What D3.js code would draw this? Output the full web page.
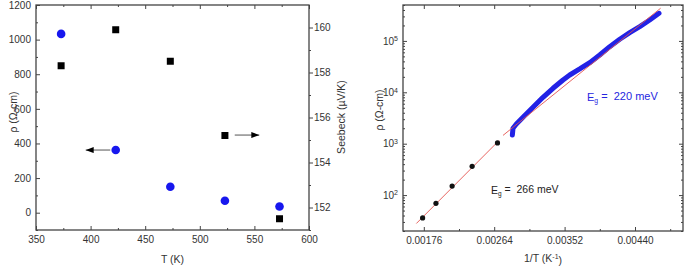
<!DOCTYPE html>
<html>
<head>
<meta charset="utf-8">
<script src="https://cdn.jsdelivr.net/npm/d3@7"></script>
<style>
    body { margin: 0; background: #fff; }
    svg text { font-family: "Liberation Sans", Arial, sans-serif; fill: #333; }
</style>
</head>
<body>
<div id="chart"></div>
<script>
// samples measured at fixed temperatures
const tempK = [373, 423, 473, 523, 573];
const rhoVals = [1033, 362, 150, 69, 36];
const seebeckVals = [158.3, 159.9, 158.5, 155.2, 151.5];

// continuous low temperature run (1/T, rho)
const runInvT = [0.002867, 0.002875, 0.002917, 0.00300, 0.003125, 0.00325, 0.003375, 0.0035, 0.003584,
    0.003709, 0.003834, 0.003959, 0.004084, 0.004209, 0.004334, 0.004459, 0.004584, 0.0047];
const runRho = [1480, 2000, 2420, 3270, 5120, 8000, 11970, 17380, 21730,
    28440, 37740, 53210, 77270, 107600, 144500, 189200, 255300, 345100];

// Arrhenius fit lines (end points)
const fitLowInvT = [0.001667, 0.00270];
const fitLowRho = [28, 1150];
const fitHighInvT = [0.00275, 0.00472];
const fitHighRho = [1450, 432000];

// ticks
const tTicks = [350, 400, 450, 500, 550, 600];
const tMinor = [375, 425, 475, 525, 575];
const rhoTicks = [0, 200, 400, 600, 800, 1000, 1200];
const rhoMinor = [-100, 100, 300, 500, 700, 900, 1100];
const sbTicks = [152, 154, 156, 158, 160];
const sbMinor = [151, 153, 155, 157, 159];
const invTicks = [0.00176, 0.00264, 0.00352, 0.00440];
const invMinor = [0.0022, 0.00308, 0.00396, 0.00484];
const logTicks = [1e2, 1e3, 1e4, 1e5];

const W = 685, H = 267;
const ink = "#444";

const svg = d3.select("#chart").append("svg")
    .attr("width", W)
    .attr("height", H);

svg.append("defs").append("marker")
    .attr("id", "arr")
    .attr("viewBox", "0 0 8 6")
    .attr("refX", 8).attr("refY", 3)
    .attr("markerWidth", 8).attr("markerHeight", 6)
    .attr("markerUnits", "userSpaceOnUse")
    .attr("orient", "auto")
    .append("path")
    .attr("d", "M0,0L8,3L0,6Z")
    .attr("fill", "#000");

function styleAxis(g) {
    g.select(".domain").remove();
    g.selectAll("line").attr("stroke", ink).attr("stroke-width", 1);
    g.selectAll("text").attr("fill", "#333").attr("font-size", 10);
}

function frame(b) {
    svg.append("rect")
        .attr("x", b.x0).attr("y", b.y0)
        .attr("width", b.x1 - b.x0).attr("height", b.y1 - b.y0)
        .attr("fill", "none")
        .attr("stroke", ink)
        .attr("stroke-width", 1.3);
}

// ---------------- left panel ----------------
const bL = { x0: 36, x1: 309, y0: 5, y1: 230 };

const xT = d3.scaleLinear().domain([350, 600]).range([bL.x0, bL.x1]);
const yRho = d3.scaleLinear().domain([-100, 1200]).range([bL.y1, bL.y0]);
const ySb = d3.scaleLinear().domain([151, 161]).range([bL.y1, bL.y0]);

svg.append("g").attr("transform", "translate(0," + bL.y1 + ")")
    .call(d3.axisBottom(xT).tickValues(tTicks).tickSize(-4).tickPadding(6).tickFormat(d3.format("d")))
    .call(styleAxis);
svg.append("g").attr("transform", "translate(0," + bL.y1 + ")")
    .call(d3.axisBottom(xT).tickValues(tMinor).tickSize(-2).tickFormat(""))
    .call(styleAxis);
svg.append("g").attr("transform", "translate(0," + bL.y0 + ")")
    .call(d3.axisTop(xT).tickValues(tTicks).tickSize(-4).tickFormat(""))
    .call(styleAxis);
svg.append("g").attr("transform", "translate(0," + bL.y0 + ")")
    .call(d3.axisTop(xT).tickValues(tMinor).tickSize(-2).tickFormat(""))
    .call(styleAxis);

svg.append("g").attr("transform", "translate(" + bL.x0 + ",0)")
    .call(d3.axisLeft(yRho).tickValues(rhoTicks).tickSize(-4).tickPadding(5).tickFormat(d3.format("d")))
    .call(styleAxis);
svg.append("g").attr("transform", "translate(" + bL.x0 + ",0)")
    .call(d3.axisLeft(yRho).tickValues(rhoMinor).tickSize(-2).tickFormat(""))
    .call(styleAxis);

svg.append("g").attr("transform", "translate(" + bL.x1 + ",0)")
    .call(d3.axisRight(ySb).tickValues(sbTicks).tickSize(4).tickPadding(1).tickFormat(d3.format("d")))
    .call(styleAxis);
svg.append("g").attr("transform", "translate(" + bL.x1 + ",0)")
    .call(d3.axisRight(ySb).tickValues(sbMinor).tickSize(2).tickFormat(""))
    .call(styleAxis);

frame(bL);

const left = tempK.map((t, i) => ({ t: t, rho: rhoVals[i], s: seebeckVals[i] }));

svg.append("g").selectAll("rect")
    .data(left)
    .join("rect")
    .attr("x", d => xT(d.t) - 3.5)
    .attr("y", d => ySb(d.s) - 3.5)
    .attr("width", 7).attr("height", 7)
    .attr("fill", "#000");

svg.append("g").selectAll("circle")
    .data(left)
    .join("circle")
    .attr("cx", d => xT(d.t))
    .attr("cy", d => yRho(d.rho))
    .attr("r", 4.3)
    .attr("fill", "#1717ee");

// arrows pointing to the matching axis
svg.append("line")
    .attr("x1", xT(418)).attr("x2", xT(395.5))
    .attr("y1", yRho(362)).attr("y2", yRho(362))
    .attr("stroke", "#555").attr("stroke-width", 1)
    .attr("marker-end", "url(#arr)");
svg.append("line")
    .attr("x1", xT(532)).attr("x2", xT(554.5))
    .attr("y1", ySb(155.22)).attr("y2", ySb(155.22))
    .attr("stroke", "#555").attr("stroke-width", 1)
    .attr("marker-end", "url(#arr)");

svg.append("text")
    .attr("x", (bL.x0 + bL.x1) / 2).attr("y", 263)
    .attr("text-anchor", "middle").attr("font-size", 10.5)
    .text("T (K)");
svg.append("text")
    .attr("transform", "translate(13," + 112 + ") rotate(-90)")
    .attr("text-anchor", "middle").attr("dy", "0.35em").attr("font-size", 10.5)
    .text("\u03c1 (\u03a9-cm)");
svg.append("text")
    .attr("transform", "translate(341," + 117 + ") rotate(-90)")
    .attr("text-anchor", "middle").attr("dy", "0.35em").attr("font-size", 10.5)
    .text("Seebeck (\u00b5V/K)");

// ---------------- right panel ----------------
const bR = { x0: 403, x1: 683, y0: 5, y1: 231 };

const xInv = d3.scaleLinear().domain([0.0015, 0.005]).range([bR.x0, bR.x1]);
const yLog = d3.scaleLog().domain([20, 5e5]).range([bR.y1, bR.y0]);
const logMinor = yLog.ticks().filter(d => logTicks.indexOf(d) < 0);

svg.append("g").attr("transform", "translate(0," + bR.y1 + ")")
    .call(d3.axisBottom(xInv).tickValues(invTicks).tickSize(-4).tickPadding(6).tickFormat(d3.format(".5f")))
    .call(styleAxis);
svg.append("g").attr("transform", "translate(0," + bR.y1 + ")")
    .call(d3.axisBottom(xInv).tickValues(invMinor).tickSize(-2).tickFormat(""))
    .call(styleAxis);
svg.append("g").attr("transform", "translate(0," + bR.y0 + ")")
    .call(d3.axisTop(xInv).tickValues(invTicks).tickSize(-4).tickFormat(""))
    .call(styleAxis);
svg.append("g").attr("transform", "translate(0," + bR.y0 + ")")
    .call(d3.axisTop(xInv).tickValues(invMinor).tickSize(-2).tickFormat(""))
    .call(styleAxis);

const yAx = svg.append("g").attr("transform", "translate(" + bR.x0 + ",0)")
    .call(d3.axisLeft(yLog).tickValues(logTicks).tickSize(-4).tickPadding(5).tickFormat(""))
    .call(styleAxis);
yAx.selectAll(".tick text").each(function (d) {
    const t = d3.select(this);
    t.append("tspan").text("10");
    t.append("tspan").attr("dy", "-0.5em").attr("font-size", 7).text(Math.round(Math.log10(d)));
});
svg.append("g").attr("transform", "translate(" + bR.x0 + ",0)")
    .call(d3.axisLeft(yLog).tickValues(logMinor).tickSize(-2).tickFormat(""))
    .call(styleAxis);
svg.append("g").attr("transform", "translate(" + bR.x1 + ",0)")
    .call(d3.axisRight(yLog).tickValues(logTicks).tickSize(-4).tickFormat(""))
    .call(styleAxis);
svg.append("g").attr("transform", "translate(" + bR.x1 + ",0)")
    .call(d3.axisRight(yLog).tickValues(logMinor).tickSize(-2).tickFormat(""))
    .call(styleAxis);

frame(bR);

const run = runInvT.map((x, i) => ({ x: x, rho: runRho[i] }));
const lineGen = d3.line().x(d => xInv(d.x)).y(d => yLog(d.rho));

svg.append("path")
    .datum(run)
    .attr("d", lineGen)
    .attr("fill", "none")
    .attr("stroke", "#2222e6")
    .attr("stroke-width", 5)
    .attr("stroke-linecap", "round")
    .attr("stroke-linejoin", "round");

const fits = [
    fitLowInvT.map((x, i) => ({ x: x, rho: fitLowRho[i] })),
    fitHighInvT.map((x, i) => ({ x: x, rho: fitHighRho[i] }))
];
svg.append("g").selectAll("path")
    .data(fits)
    .join("path")
    .attr("d", lineGen)
    .attr("fill", "none")
    .attr("stroke", "#e4534f")
    .attr("stroke-width", 0.9);

svg.append("g").selectAll("circle")
    .data(left)
    .join("circle")
    .attr("cx", d => xInv(1 / d.t))
    .attr("cy", d => yLog(d.rho))
    .attr("r", 2.6)
    .attr("fill", "#111");

function egLabel(x, y, val, color, size) {
    const t = svg.append("text").attr("x", x).attr("y", y).attr("font-size", size).style("fill", color);
    t.append("tspan").text("E");
    t.append("tspan").attr("dy", "0.35em").attr("font-size", size * 0.62).text("g");
    t.append("tspan").attr("dy", "-0.35em").attr("xml:space", "preserve").text(" =  " + val + " meV");
}
egLabel(587, 101, 220, "#2626e0", 11);
egLabel(491, 194, 266, "#222", 10.5);

const xt = svg.append("text")
    .attr("x", (bR.x0 + bR.x1) / 2).attr("y", 262)
    .attr("text-anchor", "middle").attr("font-size", 10.5);
xt.append("tspan").text("1/T (K");
xt.append("tspan").attr("dy", "-0.45em").attr("font-size", 7).text("-1");
xt.append("tspan").attr("dy", "0.45em").text(")");

svg.append("text")
    .attr("transform", "translate(379," + 110 + ") rotate(-90)")
    .attr("text-anchor", "middle").attr("dy", "0.35em").attr("font-size", 10.5)
    .text("\u03c1 (\u03a9-cm)");
</script>
</body>
</html>
